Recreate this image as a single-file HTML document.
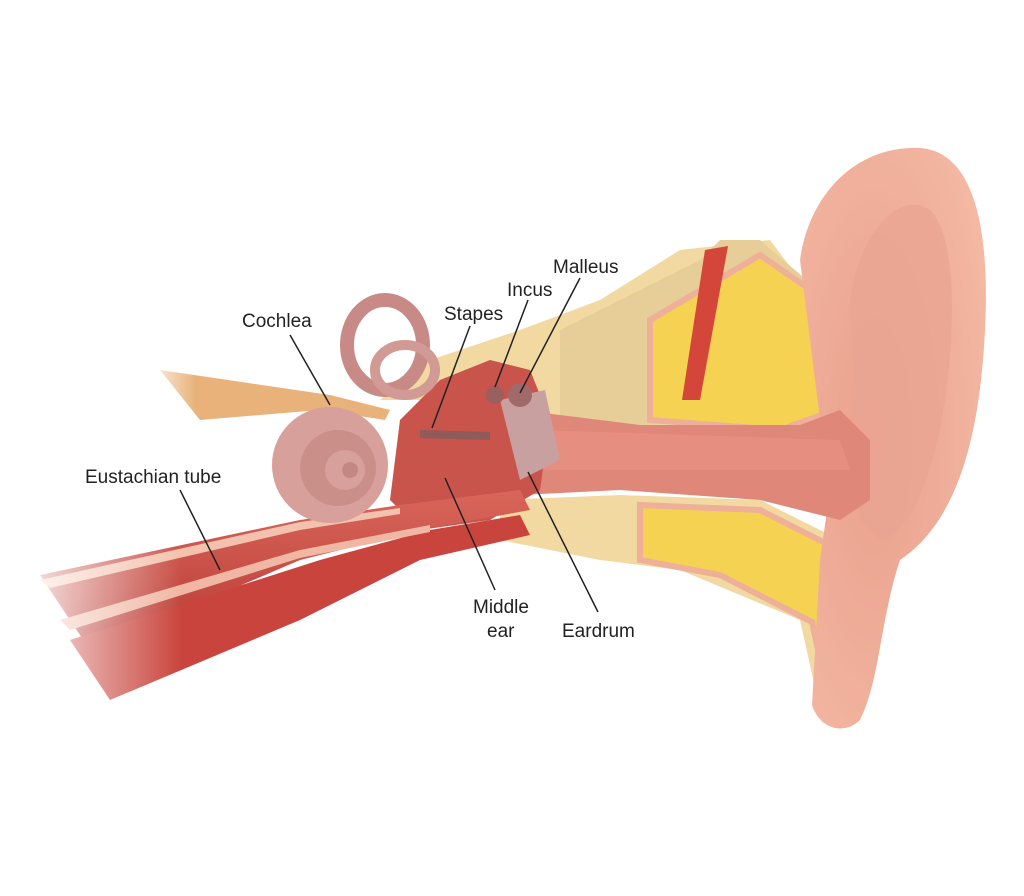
<!DOCTYPE html>
<html><head><meta charset="utf-8"><style>
html,body{margin:0;padding:0;background:#fff;}
svg{display:block}
text{font-family:"Liberation Sans",sans-serif;font-size:19px;fill:#222;}
</style></head><body>
<svg width="1024" height="896" viewBox="0 0 1024 896" xmlns="http://www.w3.org/2000/svg">
<defs>
<linearGradient id="fade" x1="0" x2="1"><stop offset="0" stop-color="#fff" stop-opacity="1"/><stop offset="0.7" stop-color="#fff" stop-opacity="0"/></linearGradient>
<radialGradient id="pinna" cx="0.4" cy="0.5" r="0.7"><stop offset="0" stop-color="#e9a08c"/><stop offset="1" stop-color="#f4b9a4"/></radialGradient>
<linearGradient id="musc" x1="0" y1="0" x2="0" y2="1"><stop offset="0" stop-color="#d9665a"/><stop offset="1" stop-color="#b83a35"/></linearGradient>
</defs>
<!-- upper bone -->
<path d="M380 400 L430 360 L520 330 L600 300 L680 250 L770 240 L800 280 L840 300 L840 420 L560 430 L480 400 Z" fill="#f2d9a2"/>
<path d="M560 330 L700 260 L720 240 L760 240 L830 300 L840 420 L640 425 L560 420 Z" fill="#e7cd98"/>
<path d="M650 320 L760 255 L825 300 L835 410 L780 430 L650 420 Z" fill="#f6d253" stroke="#eeb098" stroke-width="6"/>
<path d="M705 250 L728 246 L700 400 L682 400 Z" fill="#d4453a"/>
<!-- lower bone -->
<path d="M500 500 L620 495 L760 500 L840 540 L860 600 L860 720 L820 710 L800 620 L680 570 L600 560 L500 540 Z" fill="#f2d9a2"/>
<path d="M640 505 L760 510 L835 548 L855 600 L852 705 L828 695 L812 622 L720 575 L640 560 Z" fill="#f6d253" stroke="#eeb098" stroke-width="6"/>
<!-- pinna -->
<path d="M800 260 C810 190 860 145 920 148 C975 152 990 230 985 330 C980 430 960 520 900 560 C880 620 880 680 860 720 C845 735 820 730 812 705 L820 560 L830 490 L820 420 Z" fill="url(#pinna)"/>
<path d="M850 300 C860 230 900 190 930 210 C960 240 955 350 940 430 C925 500 900 540 880 540 L860 520 Z" fill="#eaa592" opacity="0.8"/>
<!-- ear canal -->
<path d="M520 410 L640 425 L800 425 L840 410 L870 440 L870 500 L840 520 L760 500 L620 490 L520 495 Z" fill="#df8778"/>
<path d="M540 430 L840 440 L850 470 L540 470 Z" fill="#e89383" opacity="0.7"/>
<!-- middle ear cavity -->
<path d="M400 420 L440 380 L490 360 L530 370 L550 420 L540 490 L490 520 L420 530 L390 500 Z" fill="#c8544c"/>
<path d="M500 400 L545 390 L560 460 L520 480 Z" fill="#c9a0a0"/>
<circle cx="520" cy="395" r="12" fill="#a06a6a"/>
<circle cx="495" cy="395" r="9" fill="#9a6060"/>
<path d="M420 430 L490 432 L490 440 L420 438 Z" fill="#8f5a5a"/>
<!-- eustachian tube -->
<path d="M40 575 L300 520 L400 505 L520 490 L530 510 L420 530 L300 560 L90 650 Z" fill="url(#musc)"/>
<path d="M40 580 L300 522 L400 508 L400 514 L300 530 L50 588 Z" fill="#f3c2ae"/>
<path d="M70 640 L320 560 L430 530 L520 515 L530 535 L420 560 L300 620 L110 700 Z" fill="#c9443c"/>
<path d="M60 620 L300 550 L430 525 L430 532 L300 558 L70 630 Z" fill="#f0b8a4"/>
<rect x="0" y="480" width="260" height="260" fill="url(#fade)"/>
<!-- nerves -->
<path d="M160 370 L330 395 L390 410 L385 420 L320 410 L200 420 Z" fill="#e8b27a"/>
<rect x="140" y="360" width="80" height="70" fill="url(#fade)"/>
<!-- cochlea & canals -->
<ellipse cx="385" cy="345" rx="38" ry="45" fill="none" stroke="#c88a86" stroke-width="14"/>
<ellipse cx="405" cy="370" rx="30" ry="25" fill="none" stroke="#d29a94" stroke-width="10"/>
<circle cx="330" cy="465" r="58" fill="#d8a09a"/>
<circle cx="338" cy="468" r="38" fill="#cb8f8a"/>
<circle cx="345" cy="470" r="20" fill="#d8a09a"/>
<circle cx="350" cy="470" r="8" fill="#c48884"/>
<!-- leader lines -->
<g stroke="#222" stroke-width="1.5">
<line x1="290" y1="335" x2="330" y2="405"/>
<line x1="470" y1="326" x2="432" y2="428"/>
<line x1="528" y1="300" x2="495" y2="387"/>
<line x1="580" y1="278" x2="520" y2="393"/>
<line x1="180" y1="490" x2="220" y2="570"/>
<line x1="495" y1="590" x2="445" y2="478"/>
<line x1="598" y1="612" x2="528" y2="472"/>
</g>
<text x="242" y="327">Cochlea</text>
<text x="444" y="320">Stapes</text>
<text x="507" y="296">Incus</text>
<text x="553" y="273">Malleus</text>
<text x="85" y="483">Eustachian tube</text>
<text x="473" y="613">Middle</text>
<text x="487" y="637">ear</text>
<text x="562" y="637">Eardrum</text>
</svg>
</body></html>
